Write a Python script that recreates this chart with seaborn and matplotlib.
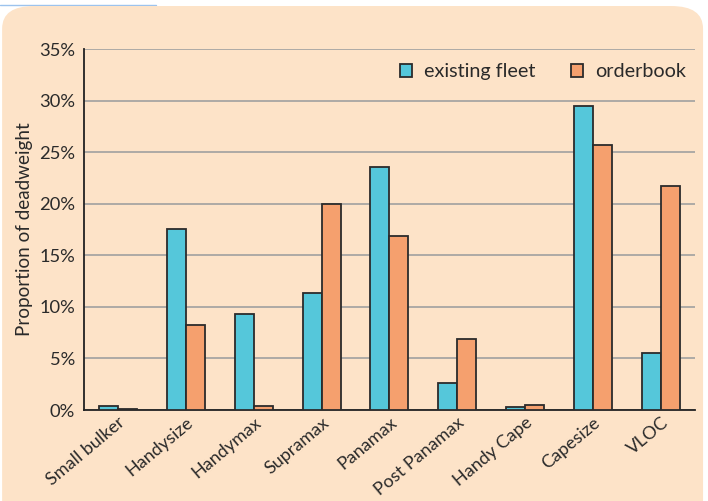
import matplotlib
matplotlib.use("Agg")
import matplotlib.pyplot as plt
import seaborn as sns
import pandas as pd
import numpy as np
from matplotlib.patches import FancyBboxPatch
from matplotlib.lines import Line2D
from matplotlib.ticker import FuncFormatter, FixedLocator

categories = ["Small bulker", "Handysize", "Handymax", "Supramax", "Panamax",
              "Post Panamax", "Handy Cape", "Capesize", "VLOC"]
existing_fleet = [0.4, 17.6, 9.3, 11.3, 23.6, 2.6, 0.3, 29.5, 5.5]
orderbook = [0.1, 8.2, 0.4, 20.0, 16.9, 6.9, 0.5, 25.7, 21.7]
series_names = ["existing fleet", "orderbook"]
yticks = [0, 5, 10, 15, 20, 25, 30, 35]

df = pd.DataFrame({
    "category": categories * 2,
    "value": existing_fleet + orderbook,
    "series": [series_names[0]] * len(categories) + [series_names[1]] * len(categories),
})

sns.set_style("white")
plt.rcParams["font.family"] = ["Lato", "DejaVu Sans"]

bg = "#FDE3C8"
txt = "#2a2a2a"
fig = plt.figure(figsize=(7.08, 5.01), dpi=100)
fig.patch.set_facecolor("white")
fig.patches.append(FancyBboxPatch((0.003, -0.05), 0.990, 1.038, transform=fig.transFigure,
                                  boxstyle="round,pad=0,rounding_size=0.045",
                                  facecolor=bg, edgecolor="none", zorder=-10))
fig.add_artist(Line2D([0.0, 0.22], [0.991, 0.991], transform=fig.transFigure,
                      color="#9CC3EE", linewidth=1.0, zorder=-11))
ax = fig.add_axes([0.1186, 0.1816, 0.863, 0.7204])
ax.set_zorder(5)
ax.set_facecolor("none")

sns.barplot(data=df, x="category", y="value", hue="series", order=categories,
            hue_order=series_names, palette=["#55C7DA", "#F5A06E"], saturation=1,
            width=0.56, edgecolor="#2b2b2b", linewidth=1.3, ax=ax, zorder=3)

ax.set_xlim(-0.5, len(categories) - 0.5)
ax.set_ylim(0, 35)
ax.set_yticks(yticks)
ax.yaxis.set_major_formatter(FuncFormatter(lambda v, p: f"{int(v)}%"))
ax.grid(axis="y", color="#a0a0a0", linewidth=1.2, zorder=0)
ax.set_axisbelow(True)

for s in ["top", "right"]:
    ax.spines[s].set_visible(False)
for s in ["left", "bottom"]:
    ax.spines[s].set_color("#222222")
    ax.spines[s].set_linewidth(1.3)

ax.xaxis.set_minor_locator(FixedLocator(np.arange(-0.5, len(categories), 1.0)))
ax.tick_params(axis="x", which="major", length=0, labelsize=13, colors=txt, pad=3)
ax.tick_params(axis="x", which="minor", length=6, width=1.3, color="#222222", direction="out")
ax.tick_params(axis="y", which="major", length=5, width=1.3, color="#222222",
               direction="out", labelsize=13.2, labelcolor=txt, pad=1.5)
plt.setp(ax.get_xticklabels(), rotation=40, ha="right", va="top", rotation_mode="anchor")

ax.set_xlabel("")
ax.set_ylabel("Proportion of deadweight", fontsize=13.6, color=txt, labelpad=4)

leg = ax.legend(loc="upper right", ncol=2, frameon=False, fontsize=14.2,
                handlelength=0.62, handleheight=0.62, columnspacing=1.8, handletextpad=0.62,
                bbox_to_anchor=(1.015, 1.01))
for t in leg.get_texts():
    t.set_color(txt)

fig.savefig("out.png", dpi=100, facecolor=fig.get_facecolor())
